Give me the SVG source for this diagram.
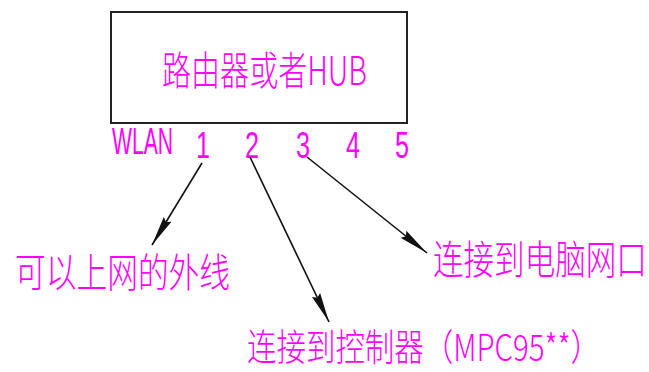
<svg xmlns="http://www.w3.org/2000/svg" width="649" height="372" viewBox="0 0 649 372">
<style>
.t{fill:#ff00ff;font-family:"Noto Sans CJK SC","Liberation Sans",sans-serif;font-weight:300;}
.d{fill:#ff00ff;font-family:"Liberation Sans","DejaVu Sans",sans-serif;}
.c{stroke:#111;stroke-width:1.6;fill:none;marker-end:url(#ah);}
</style>
<defs>
<marker id="ah" markerUnits="userSpaceOnUse" viewBox="0 0 30 10" refX="30" refY="5" markerWidth="30" markerHeight="10" orient="auto">
<path d="M0,0.5 L30,5 L0,9.5 L3,5 Z" fill="#111"/>
</marker>
</defs>
<rect width="649" height="372" fill="#fff"/>
<g id="router">
<rect x="111" y="12" width="296" height="111" fill="none" stroke="#222" stroke-width="2"/>
<text class="t" transform="translate(162,85) scale(0.72,1)" font-size="40" textLength="284.7" lengthAdjust="spacingAndGlyphs">路由器或者HUB</text>
</g>
<g id="ports">
<text class="d" transform="translate(112,154) scale(0.555,1)" font-size="37" textLength="110" lengthAdjust="spacingAndGlyphs">WLAN</text>
<text class="d" transform="translate(196,158) scale(0.68,1)" font-size="37" textLength="20.6" lengthAdjust="spacingAndGlyphs">1</text>
<text class="d" transform="translate(245,158) scale(0.68,1)" font-size="37" textLength="20.6" lengthAdjust="spacingAndGlyphs">2</text>
<text class="d" transform="translate(296,158) scale(0.68,1)" font-size="37" textLength="20.6" lengthAdjust="spacingAndGlyphs">3</text>
<text class="d" transform="translate(346,158) scale(0.68,1)" font-size="37" textLength="20.6" lengthAdjust="spacingAndGlyphs">4</text>
<text class="d" transform="translate(395,158) scale(0.68,1)" font-size="37" textLength="20.6" lengthAdjust="spacingAndGlyphs">5</text>
</g>
<g id="label-wan">
<text class="t" transform="translate(15,287) scale(0.768,1)" font-size="40" textLength="280" lengthAdjust="spacingAndGlyphs">可以上网的外线</text>
</g>
<g id="label-pc">
<text class="t" transform="translate(433,274) scale(0.764,1)" font-size="40" textLength="280" lengthAdjust="spacingAndGlyphs">连接到电脑网口</text>
</g>
<g id="label-ctrl">
<text class="t" transform="translate(247,361) scale(0.78,1)" font-size="37" textLength="452.6" lengthAdjust="spacingAndGlyphs">连接到控制器（MPC95**）</text>
</g>
<g id="connectors">
<path class="c" d="M202,163 L152,245"/>
<path class="c" d="M250,157 L329,322"/>
<path class="c" d="M307,157 L427,253"/>
</g>
</svg>
